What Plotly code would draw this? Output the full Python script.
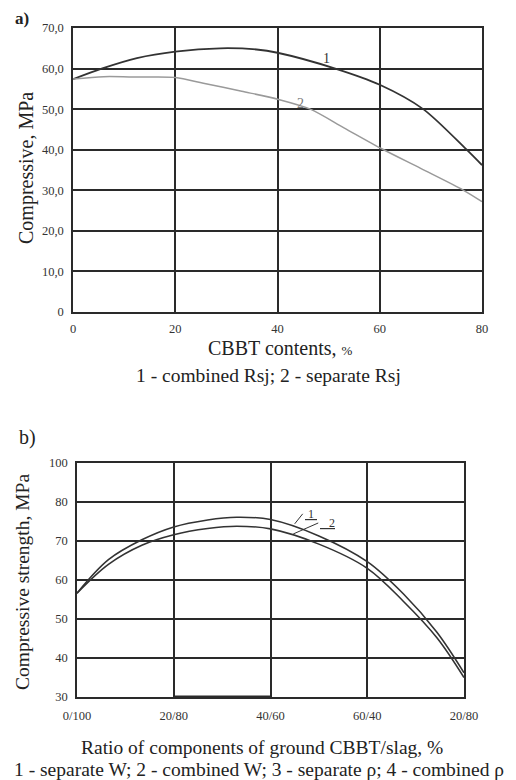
import plotly.graph_objects as go

# ---- Chart a) data ----
a_x1 = [0, 5.6, 12.5, 20, 28.8, 35.9, 40, 51.3, 60, 68.5, 77, 80]
a_y1 = [57.4, 60.0, 62.6, 64.2, 65.0, 64.7, 63.9, 60.0, 56.0, 50.0, 40.0, 36.2]
a_x2 = [0, 6, 13, 20, 25.5, 33, 40.2, 46.4, 53, 60.3, 68, 76.4, 80]
a_y2 = [57.4, 58.0, 57.9, 57.8, 56.4, 54.4, 52.4, 50.0, 45.4, 40.3, 35.4, 30.0, 27.2]
a_xticks = [0, 20, 40, 60, 80]
a_xticklabels = ["0", "20", "40", "60", "80"]
a_yticks = [0, 10, 20, 30, 40, 50, 60, 70]
a_yticklabels = ["0", "10,0", "20,0", "30,0", "40,0", "50,0", "60,0", "70,0"]

# ---- Chart b) data ----
b_x = [0, 6.5, 13.4, 20, 27, 33, 40, 50, 60, 67.5, 74.4, 80]
b_y1 = [56.6, 65.2, 70.3, 73.6, 75.4, 76.1, 75.5, 71.3, 64.7, 56.4, 46.6, 36.2]
b_y2 = [56.6, 64.0, 68.9, 71.6, 73.2, 73.8, 73.1, 69.2, 63.0, 54.5, 45.2, 35.0]
b_xticks = [0, 20, 40, 60, 80]
b_xticklabels = ["0/100", "20/80", "40/60", "60/40", "20/80"]
b_yticks = [30, 40, 50, 60, 70, 80, 90]
b_yticklabels = ["30", "40", "50", "60", "70", "80", "100"]

# page body has an 8px margin: the figure starts at (8, 8)
OFF = 8
W, H = 516 - OFF, 780 - OFF
def px(x): return (x - OFF) / W
def py(y): return 1 - (y - OFF) / H

SERIF = "Liberation Serif, Times New Roman, serif"
GRID = "#2a2a2a"

fig = go.Figure()
fig.add_trace(go.Scatter(x=a_x1, y=a_y1, mode="lines", line=dict(color="#333333", width=1.8, shape="spline", smoothing=0.8),
                         xaxis="x", yaxis="y", showlegend=False))
fig.add_trace(go.Scatter(x=a_x2, y=a_y2, mode="lines", line=dict(color="#9a9a9a", width=1.5, shape="spline", smoothing=0.8),
                         xaxis="x", yaxis="y", showlegend=False))
fig.add_trace(go.Scatter(x=b_x, y=b_y1, mode="lines", line=dict(color="#333333", width=1.6, shape="spline", smoothing=1.0),
                         xaxis="x2", yaxis="y2", showlegend=False))
fig.add_trace(go.Scatter(x=b_x, y=b_y2, mode="lines", line=dict(color="#333333", width=1.6, shape="spline", smoothing=1.0),
                         xaxis="x2", yaxis="y2", showlegend=False))

axis_common = dict(showgrid=True, gridcolor=GRID, gridwidth=1.5, showline=True, linecolor=GRID,
                   linewidth=1.5, mirror=True, zeroline=False, ticks="", fixedrange=True,
                   automargin=False,
                   tickfont=dict(family=SERIF, size=12.5, color="#333333"))

fig.update_layout(
    width=W, height=H, margin=dict(l=0, r=0, t=0, b=0),
    paper_bgcolor="white", plot_bgcolor="white",
    xaxis=dict(axis_common, domain=[px(73), px(482)], range=[0, 80], tickvals=a_xticks,
               ticktext=a_xticklabels, anchor="y", ticklabelstandoff=4),
    yaxis=dict(axis_common, domain=[py(312), py(28)], range=[0, 70], tickvals=a_yticks,
               ticktext=a_yticklabels, anchor="x", ticklabelstandoff=5),
    xaxis2=dict(axis_common, domain=[px(77), px(464)], range=[0, 80], tickvals=b_xticks,
                ticktext=b_xticklabels, anchor="y2", ticklabelstandoff=6),
    yaxis2=dict(axis_common, domain=[py(697), py(463)], range=[30, 90], tickvals=b_yticks,
                ticktext=b_yticklabels, anchor="x2", ticklabelstandoff=5),
    showlegend=False,
)

# thick segment on the bottom border of chart b)
fig.add_shape(type="line", xref="x2", yref="y2", x0=20, x1=40, y0=30, y1=30,
              line=dict(color=GRID, width=3))

def txt(x, y, s, size, **kw):
    fig.add_annotation(x=px(x), y=py(y), xref="paper", yref="paper", text=s, showarrow=False,
                       xanchor="center", yanchor="middle",
                       font=dict(family=SERIF, size=size, color="#222222"), **kw)

txt(22, 18, "<b>a)</b>", 17)
txt(27, 437, "b)", 20)
txt(27, 168, "Compressive, MPa", 20, textangle=-90)
txt(22, 582, "Compressive strength, MPa", 19.5, textangle=-90)
txt(280, 348, "CBBT contents, <span style='font-size:13px'>%</span>", 20)
txt(268, 376, "1 - combined Rsj; 2 - separate Rsj", 19.5)
txt(262, 747, "Ratio of components of ground CBBT/slag, %", 19.5)
txt(259, 769, "1 - separate W; 2 - combined W; 3 - separate ρ; 4 - combined ρ", 19.5)

# curve labels in a)
fig.add_annotation(x=49.5, y=62.4, xref="x", yref="y", text="1", showarrow=False,
                   font=dict(family=SERIF, size=14, color="#333333"))
fig.add_annotation(x=44.5, y=51.5, xref="x", yref="y", text="2", showarrow=False,
                   font=dict(family=SERIF, size=14, color="#777777"))

# leader labels in b)
fig.add_annotation(x=45.0, y=74.4, xref="x2", yref="y2", text="<u> 1 </u>", showarrow=True,
                   arrowhead=0, arrowwidth=1, arrowcolor="#333333", ax=8, ay=-10, xanchor="left",
                   font=dict(family=SERIF, size=12, color="#333333"))
fig.add_annotation(x=44.7, y=71.8, xref="x2", yref="y2", text="<u>   2</u>", showarrow=True,
                   arrowhead=0, arrowwidth=1, arrowcolor="#333333", ax=25, ay=-11, xanchor="left",
                   font=dict(family=SERIF, size=12, color="#333333"))

fig.write_html("out.html")
